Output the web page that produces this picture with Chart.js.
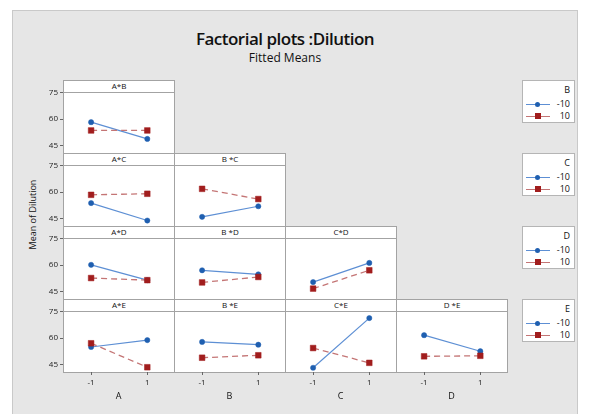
<!DOCTYPE html>
<html>
<head>
<meta charset="utf-8">
<script src="https://cdn.jsdelivr.net/npm/chart.js@4.4.0/dist/chart.umd.min.js"></script>
<style>
  body { margin: 0; background: #fff; font-family: "Open Sans", sans-serif; color: #111; }
  #page { position: relative; width: 589px; height: 414px; overflow: hidden; }
  #frame { position: absolute; left: 12px; top: 10px; width: 566px; height: 420px; background: #e6e6e6; border: 1px solid #c9c9c9; box-sizing: border-box; }
  #title { position: absolute; left: 0; width: 570px; top: 27px; text-align: center; font-size: 17px; font-weight: 600; letter-spacing: -0.5px; }
  #subtitle { position: absolute; left: 0; width: 570px; top: 49px; text-align: center; font-size: 12px; }
  #ylabel { position: absolute; left: -18px; top: 208px; width: 100px; text-align: center; font-size: 9px; transform: rotate(-90deg); }
  .panel { position: absolute; width: 112px; height: 74px; background: #fff; border: 1px solid #a3a3a3; box-sizing: border-box; }
  .head { position: absolute; left: 0; right: 0; top: 0; height: 11px; border-bottom: 1px solid #a3a3a3; font-size: 8px; line-height: 10px; text-align: center; }
  .wrap { position: absolute; }
  .legend { position: absolute; left: 522px; width: 53px; height: 43px; background: #fff; border: 1px solid #b5b5b5; box-sizing: border-box; font-size: 9px; }
  .legend .lt { position: absolute; right: 4px; top: 3px; line-height: 12px; }
  .legend .row { position: absolute; left: 2px; right: 4px; height: 12px; }
  .legend .ln { position: absolute; left: 1px; width: 24px; top: 6px; border-top: 1px solid; }
  .legend .mk { position: absolute; }
  .legend .lb { position: absolute; right: 0; top: 0; line-height: 12px; }
</style>
</head>
<body>
<div id="page">
  <div id="frame"></div>
  <div id="title">Factorial plots :Dilution</div>
  <div id="subtitle">Fitted Means</div>
  <div id="ylabel">Mean of Dilution</div>
</div>
<script>
// factor levels on the x axis and the two levels of the trace factor
var levels = [-1, 1];
var traceLevels = ['-10', '10'];
var factorNames = ['A', 'B', 'C', 'D'];
var traceNames = ['B', 'C', 'D', 'E'];
var yTicks = [45, 60, 75];

// interaction panels, in reading order
var panelNames = ['A*B', 'A*C', 'B *C', 'A*D', 'B *D', 'C*D', 'A*E', 'B *E', 'C*E', 'D *E'];
var panelRow = [0, 1, 1, 2, 2, 2, 3, 3, 3, 3];
var panelCol = [0, 0, 1, 0, 1, 2, 0, 1, 2, 3];

// fitted means at x = -1 and x = 1, trace level -10 (blue) and 10 (red)
var lowMeans = [[58.3, 48.8], [53.8, 43.9], [46.0, 52.0], [60.2, 51.5], [57.1, 54.8], [50.4, 61.3], [55.0, 58.9], [57.9, 56.3], [43.2, 71.4], [61.7, 52.6]];
var highMeans = [[53.6, 53.6], [58.5, 59.1], [61.9, 56.1], [52.7, 51.5], [50.2, 53.3], [46.7, 57.1], [57.1, 43.5], [48.9, 50.3], [54.4, 46.0], [49.7, 50.0]];

var colX = [63, 174, 285, 396];
var rowY = [80, 153, 226, 299];
var axisW = 25, axisH = 34, padTop = 6;
var page = document.getElementById('page');

var blue = '#1f5fb0', blueLine = '#5d8fd4';
var red = '#a11d1d', redLine = '#c47575';
var tickFont = {family: '"Open Sans", sans-serif', size: 8};

function pts(vals) {
  return levels.map(function(x, i) { return {x: x, y: vals[i]}; });
}

panelNames.forEach(function(name, i) {
  var r = panelRow[i], c = panelCol[i];
  var panel = document.createElement('div');
  panel.className = 'panel';
  panel.style.left = colX[c] + 'px';
  panel.style.top = rowY[r] + 'px';
  var head = document.createElement('div');
  head.className = 'head';
  head.textContent = name;
  panel.appendChild(head);
  page.appendChild(panel);

  var showY = c === 0, showX = r === 3;
  var wrap = document.createElement('div');
  wrap.className = 'wrap';
  var w = 111 + (showY ? axisW : 0), h = padTop + 62 + (showX ? axisH : 0);
  wrap.style.width = w + 'px'; wrap.style.height = h + 'px';
  wrap.style.left = (colX[c] - (showY ? axisW : 0)) + 'px';
  wrap.style.top = (rowY[r] + 11 - padTop) + 'px';
  var cv = document.createElement('canvas');
  wrap.appendChild(cv);
  page.appendChild(wrap);

  new Chart(cv.getContext('2d'), {
    type: 'line',
    data: {
      datasets: [
        {label: traceLevels[1], data: pts(highMeans[i]), borderColor: redLine, borderWidth: 1.3, borderDash: [6, 4],
         pointStyle: 'rect', pointRadius: 4, pointBackgroundColor: red, pointBorderColor: red, pointBorderWidth: 0.5},
        {label: traceLevels[0], data: pts(lowMeans[i]), borderColor: blueLine, borderWidth: 1.2,
         pointStyle: 'circle', pointRadius: 2.6, pointBackgroundColor: blue, pointBorderColor: blue, pointBorderWidth: 0.5}
      ]
    },
    options: {
      responsive: true,
      maintainAspectRatio: false,
      animation: false,
      layout: {padding: {top: padTop, left: 0, right: 0, bottom: 0}, autoPadding: false},
      plugins: {legend: {display: false}, tooltip: {enabled: false}},
      scales: {
        x: {
          type: 'linear', min: -2, max: 1.95, display: showX,
          afterBuildTicks: function(s) { s.ticks = levels.map(function(v) { return {value: v}; }); },
          afterFit: function(s) { if (showX) { s.height = axisH; } s.paddingLeft = 0; s.paddingRight = 0; },
          ticks: {font: tickFont, color: '#222', padding: 3, maxRotation: 0},
          grid: {drawOnChartArea: false, drawTicks: true, tickLength: 3, color: '#666'},
          border: {display: false},
          title: {display: true, text: factorNames[c], font: {family: '"Open Sans", sans-serif', size: 9}, color: '#111', padding: {top: 4, bottom: 4}}
        },
        y: {
          min: 40.8, max: 76, display: showY,
          afterBuildTicks: function(s) { s.ticks = yTicks.map(function(v) { return {value: v}; }); },
          afterFit: function(s) { if (showY) { s.width = axisW; } s.paddingTop = 0; s.paddingBottom = 0; },
          ticks: {font: tickFont, color: '#222', padding: 2},
          grid: {drawOnChartArea: false, drawTicks: true, tickLength: 3, color: '#666'},
          border: {display: false}
        }
      }
    }
  });
});

// legend boxes, one per row
traceNames.forEach(function(t, r) {
  var box = document.createElement('div');
  box.className = 'legend';
  box.style.top = rowY[r] + 'px';
  var html = '<div class="lt">' + t + '</div>';
  html += '<div class="row" style="top:17px"><div class="ln" style="border-color:' + blueLine + '"></div>' +
    '<div class="mk" style="left:10px;top:4px;width:5px;height:5px;border-radius:50%;background:' + blue + '"></div>' +
    '<div class="lb">' + traceLevels[0] + '</div></div>';
  html += '<div class="row" style="top:29px"><div class="ln" style="border-color:' + redLine + '"></div>' +
    '<div class="mk" style="left:10px;top:3px;width:6px;height:6px;background:' + red + '"></div>' +
    '<div class="lb">' + traceLevels[1] + '</div></div>';
  box.innerHTML = html;
  page.appendChild(box);
});
</script>
</body>
</html>
